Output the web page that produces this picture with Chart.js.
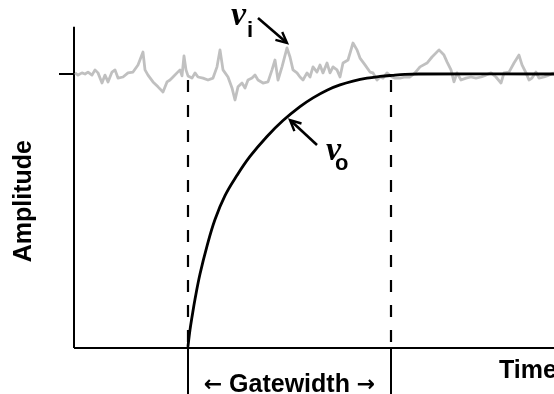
<!DOCTYPE html>
<html>
<head>
<meta charset="utf-8">
<script src="https://cdn.jsdelivr.net/npm/chart.js@4/dist/chart.umd.min.js"></script>
<style>
  html, body { margin: 0; padding: 0; background: #ffffff; }
  #wrap { width: 554px; height: 394px; }
</style>
</head>
<body>
<div id="wrap"><canvas id="c" width="554" height="394"></canvas></div>
<script>
// ---- Data (time in arbitrary units, amplitude with steady level = 100) ----
const noiseTime = [1,4,8,11,14,18,21,24,28,31,34,38,41,44,49,54,59,64,69,71,74,79,84,89,93,96,99,103,106,108,110,112,114,118,121,124,129,134,139,143,146,149,154,158,161,164,168,171,174,178,181,184,189,194,198,201,204,208,213,216,219,223,226,229,233,236,239,243,246,249,253,256,259,263,266,269,274,279,283,286,291,296,299,303,306,309,313,318,321,326,331,336,341,346,353,358,365,370,373,377,380,383,387,392,397,402,407,412,417,422,427,430,435,440,445,448,452,455,458,462,465,470,475,480];
const noiseAmp  = [100.4,99.6,100.4,100.0,100.7,99.6,101.5,100.4,96.7,99.6,97.1,100.7,101.5,98.5,98.9,100.4,100.7,103.3,108.0,101.5,99.6,97.1,95.3,93.4,97.1,97.8,98.9,100.4,101.5,99.3,106.6,101.5,99.3,98.5,100.4,98.9,98.5,97.8,98.5,102.6,108.8,101.5,98.9,94.9,90.5,95.3,96.7,94.9,97.8,98.5,99.6,97.8,96.7,97.1,101.5,105.1,97.8,102.6,109.5,106.2,101.5,100.4,98.9,97.8,100.4,98.9,102.6,100.7,103.3,100.4,104.0,100.4,102.6,101.5,98.9,104.0,105.1,111.3,108.8,105.8,103.3,100.7,100.4,97.8,98.9,98.5,100.4,98.9,98.5,98.5,98.9,98.9,100.4,102.6,104.0,106.2,108.8,106.9,104.4,101.5,97.1,100.4,97.8,98.5,98.9,98.5,98.9,99.6,100.4,98.9,96.7,100.4,100.7,104.0,106.9,103.3,100.4,97.8,98.5,100.7,98.5,98.9,99.6,100.4];

const respTime = [114,116,118,121,126,133,141,151,163,176,193,209,226,239,253,266,279,293,306,318,331,345,480];
const respAmp  = [0.7,6.6,11.3,17.8,27.0,37.2,46.9,55.6,63.0,69.9,77.2,83.0,88.1,91.3,94.1,96.0,97.4,98.5,99.1,99.5,99.85,100,100];

const gateStart = 114;
const gateEnd = 317;
const steadyLevel = 100;
const axisTimeEnd = 480;
const axisAmpTop = 117.2;
const gateDashTop = 97.8;
const belowAxis = -16.8;

const labels = { y: 'Amplitude', x: 'Time', gate: 'Gatewidth', vin: 'i', vout: 'o', v: 'v' };

// ---- Build datasets ----
const pts = (xs, ys) => xs.map((x, i) => ({ x: x, y: ys[i] }));
const seg = (x1, y1, x2, y2) => [{ x: x1, y: y1 }, { x: x2, y: y2 }];

const lineDs = (data, color, width, extra) => Object.assign({
  data: data, borderColor: color, borderWidth: width, pointRadius: 0,
  fill: false, tension: 0, showLine: true
}, extra || {});

const datasets = [
  lineDs(pts(respTime, respAmp), '#000000', 2.8, { order: 0, tension: 0.4, borderCapStyle: 'round' }),
  lineDs(pts(noiseTime, noiseAmp), '#c0c0c0', 2.8, { order: 1, borderJoinStyle: 'round' }),
  lineDs(seg(0, 0, 0, axisAmpTop), '#000000', 2, { order: 2 }),
  lineDs(seg(0, 0, axisTimeEnd, 0), '#000000', 2, { order: 2 }),
  lineDs(seg(-15, steadyLevel, 0, steadyLevel), '#000000', 2, { order: 2 }),
  lineDs(seg(gateStart, gateDashTop, gateStart, 0), '#000000', 2.2, { order: 3, borderDash: [12, 13] }),
  lineDs(seg(gateEnd, gateDashTop, gateEnd, 0), '#000000', 2.2, { order: 3, borderDash: [12, 13] }),
  lineDs(seg(gateStart, 0, gateStart, belowAxis), '#000000', 2, { order: 2 }),
  lineDs(seg(gateEnd, 0, gateEnd, belowAxis), '#000000', 2, { order: 2 })
];

// ---- Annotation plugin (text + arrows) ----
const annot = {
  id: 'annot',
  afterDraw(chart) {
    const ctx = chart.ctx;
    const xs = chart.scales.x, ys = chart.scales.y;
    const X = v => xs.getPixelForValue(v);
    const Y = v => ys.getPixelForValue(v);
    ctx.save();
    ctx.fillStyle = '#000';
    ctx.strokeStyle = '#000';

    // Axis titles
    ctx.font = 'bold 25px "Liberation Sans", Arial, sans-serif';
    ctx.textBaseline = 'middle';
    ctx.textAlign = 'center';
    ctx.save();
    ctx.translate(X(-50), Y(53.6));
    ctx.rotate(-Math.PI / 2);
    ctx.fillText(labels.y, 0, 0);
    ctx.restore();

    ctx.textBaseline = 'alphabetic';
    ctx.textAlign = 'left';
    ctx.fillText(labels.x, X(425), Y(-10.9));

    // Gatewidth label with arrows
    const cx = (X(gateStart) + X(gateEnd)) / 2;
    const by = Y(-15.9);
    ctx.textAlign = 'center';
    ctx.font = 'bold 25px "Liberation Sans", Arial, sans-serif';
    ctx.fillText(labels.gate, cx, by);
    const gw = ctx.measureText(labels.gate).width;
    ctx.font = 'bold 22px "DejaVu Sans", sans-serif';
    ctx.fillText('\u2190', cx - gw / 2 - 16, by - 1);
    ctx.fillText('\u2192', cx + gw / 2 + 16, by - 1);

    // v_i and v_o labels
    const vlabel = (tx, ta, subTx, subTa, sub) => {
      ctx.textAlign = 'left';
      ctx.font = 'italic bold 34px "Liberation Serif", "Times New Roman", serif';
      ctx.fillText(labels.v, X(tx), Y(ta));
      ctx.font = 'bold 22px "Liberation Sans", Arial, sans-serif';
      ctx.fillText(sub, X(subTx), Y(subTa));
    };
    vlabel(157, 117.9, 173, 113.5, labels.vin);
    vlabel(252, 68.6, 261, 65.0, labels.vout);

    // Arrows
    const arrow = (t1, a1, t2, a2) => {
      const x1 = X(t1), y1 = Y(a1), x2 = X(t2), y2 = Y(a2);
      const ang = Math.atan2(y2 - y1, x2 - x1);
      ctx.lineWidth = 2.6;
      ctx.lineCap = 'butt';
      ctx.beginPath();
      ctx.moveTo(x1, y1);
      ctx.lineTo(x2 - 3 * Math.cos(ang), y2 - 3 * Math.sin(ang));
      ctx.stroke();
      const L = 12, w = 0.45;
      ctx.lineWidth = 2.4;
      ctx.beginPath();
      ctx.moveTo(x2 - L * Math.cos(ang - w), y2 - L * Math.sin(ang - w));
      ctx.lineTo(x2, y2);
      ctx.lineTo(x2 - L * Math.cos(ang + w), y2 - L * Math.sin(ang + w));
      ctx.stroke();
    };
    arrow(184, 120.4, 213, 111.3);
    arrow(243, 74.1, 216, 83.2);

    ctx.restore();
  }
};

new Chart(document.getElementById('c'), {
  type: 'scatter',
  data: { datasets: datasets },
  options: {
    responsive: false,
    animation: false,
    devicePixelRatio: 1,
    layout: { padding: 0 },
    plugins: { legend: { display: false }, tooltip: { enabled: false }, title: { display: false } },
    scales: {
      x: { type: 'linear', display: false, min: -74, max: 480 },
      y: { type: 'linear', display: false, min: -16.79, max: 127.0 }
    }
  },
  plugins: [annot]
});
</script>
</body>
</html>
